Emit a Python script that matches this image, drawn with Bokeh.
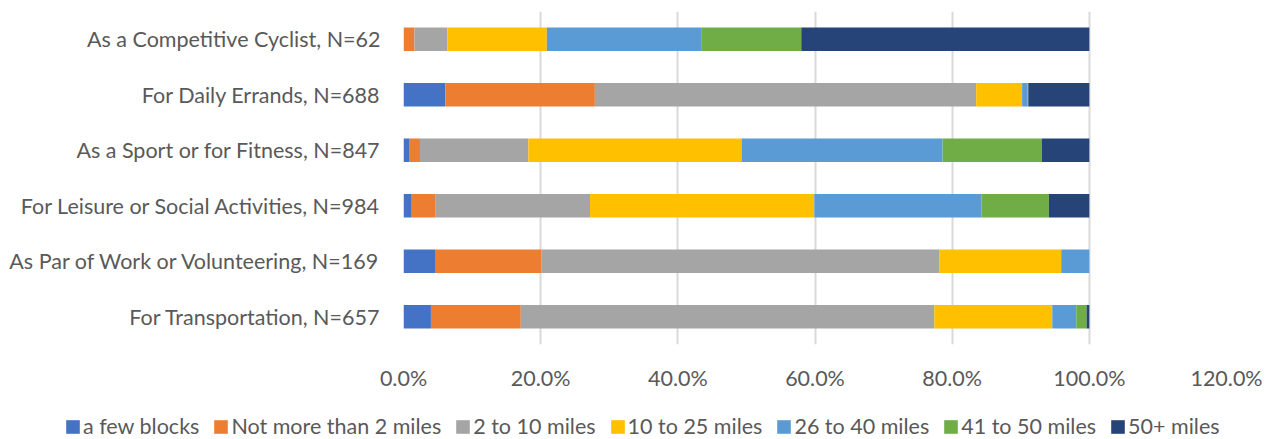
from bokeh.plotting import figure
from bokeh.models import (ColumnDataSource, FactorRange, Range1d, Legend, LegendItem,
                          NumeralTickFormatter, FixedTicker)
from bokeh.embed import file_html
from bokeh.resources import INLINE

# Trip purposes, listed top to bottom
categories = [
    "As a Competitive Cyclist, N=62",
    "For Daily Errands, N=688",
    "As a Sport or for Fitness, N=847",
    "For Leisure or Social Activities, N=984",
    "As Par of Work or Volunteering, N=169",
    "For Transportation, N=657",
]

# Share of respondents (%) for each typical ride distance
series_names = [
    "a few blocks",
    "Not more than 2 miles",
    "2 to 10 miles",
    "10 to 25 miles",
    "26 to 40 miles",
    "41 to 50 miles",
    "50+ miles",
]
a_few_blocks = [0.0, 6.1, 0.9, 1.2, 4.7, 4.0]
not_more_than_2 = [1.6, 21.8, 1.5, 3.5, 15.4, 13.1]
two_to_10 = [4.8, 55.6, 15.8, 22.5, 58.0, 60.3]
ten_to_25 = [14.5, 6.7, 31.1, 32.7, 17.8, 17.2]
twentysix_to_40 = [22.6, 0.8, 29.3, 24.4, 4.1, 3.5]
fortyone_to_50 = [14.5, 0.1, 14.5, 9.8, 0.0, 1.5]
fifty_plus = [42.0, 8.9, 6.9, 5.9, 0.0, 0.4]

# x-axis ticks (fractions, shown as percentages)
x_ticks = [0.0, 0.2, 0.4, 0.6, 0.8, 1.0, 1.2]

series_values = [a_few_blocks, not_more_than_2, two_to_10, ten_to_25,
                 twentysix_to_40, fortyone_to_50, fifty_plus]
colors = ["#4472C4", "#ED7D31", "#A5A5A5", "#FFC000", "#5B9BD5", "#70AD47", "#264478"]

data = {"cat": categories}
for name, vals in zip(series_names, series_values):
    data[name] = [v / 100.0 for v in vals]
source = ColumnDataSource(data)

FONT = "Lato"
TEXT = "#595959"
FONT_SIZE = "21.5px"
W = 1265

p = figure(
    width=W, height=394,
    y_range=FactorRange(factors=list(reversed(categories))),
    x_range=Range1d(x_ticks[0], x_ticks[-1]),
    output_backend="svg", toolbar_location=None,
    min_border_top=11, min_border_right=39, min_border_left=403, min_border_bottom=50,
)

p.hbar_stack(series_names, y="cat", height=0.42, color=colors,
             source=source, line_width=0)

# axes
p.xaxis.ticker = FixedTicker(ticks=x_ticks)
p.xaxis.formatter = NumeralTickFormatter(format="0.0%")
for ax in (p.xaxis[0], p.yaxis[0]):
    ax.axis_line_color = None
    ax.major_tick_line_color = None
    ax.minor_tick_line_color = None
    ax.major_tick_out = 0
    ax.major_tick_in = 0
    ax.major_label_text_font = FONT
    ax.major_label_text_font_size = FONT_SIZE
    ax.major_label_text_color = TEXT
p.xaxis.major_label_standoff = 20
p.yaxis.major_label_standoff = 23

p.xgrid.grid_line_color = "#D9D9D9"
p.xgrid.grid_line_width = 2
p.ygrid.grid_line_color = None
p.outline_line_color = None

# legend strip under the chart: the same stacked bars (hidden) feed the swatches
leg = figure(
    width=W, height=45,
    y_range=FactorRange(factors=list(reversed(categories))),
    x_range=Range1d(x_ticks[0], x_ticks[-1]),
    x_axis_type=None, y_axis_type=None,
    output_backend="svg", toolbar_location=None,
    min_border=0,
)
leg.outline_line_color = None
leg.xgrid.visible = False
leg.ygrid.visible = False
swatches = leg.hbar_stack(series_names, y="cat", height=0.42, color=colors,
                          source=source, line_width=0)
for r in swatches:
    r.visible = False

legend = Legend(
    items=[LegendItem(label=n, renderers=[r]) for n, r in zip(series_names, swatches)],
    orientation="horizontal",
    location=(64, 0),
    label_text_font=FONT,
    label_text_font_size=FONT_SIZE,
    label_text_color=TEXT,
    glyph_width=17, glyph_height=17,
    label_standoff=2,
    spacing=13,
    padding=0,
    margin=0,
    border_line_color=None,
    background_fill_alpha=0,
)
leg.add_layout(legend, "center")

open("out.html", "w").write(file_html([p, leg], INLINE))
